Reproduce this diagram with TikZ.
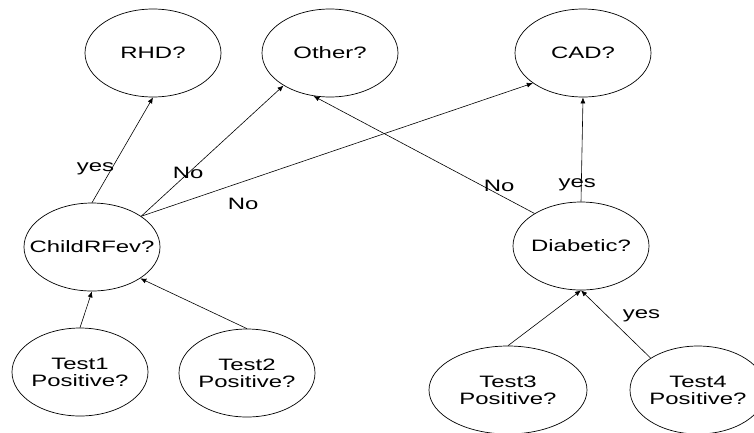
\documentclass[tikz,border=0pt]{standalone}
\usepackage{fontspec}
\setmainfont{Liberation Sans}[FakeStretch=1.45]
\usetikzlibrary{shapes.geometric, arrows.meta}

\begin{document}
\begin{tikzpicture}[x=1pt, y=-1pt,
    qnode/.style={draw, ellipse, line width=0.7pt, minimum width=136pt, minimum height=88pt, inner xsep=-24pt, inner ysep=0pt, align=center, font=\fontsize{16.5pt}{17pt}\selectfont},
    link/.style={-{Latex[length=6pt, width=5pt]}, line width=0.6pt},
    lbl/.style={font=\fontsize{16.5pt}{18pt}\selectfont, inner sep=1pt}]
    \useasboundingbox (0,0) rectangle (754,432);

    % Diagnoses
    \node[qnode] (rhd) at (153, 53) {RHD?};
    \node[qnode] (other) at (330, 53) {Other?};
    \node[qnode] (cad) at (583, 53) {CAD?};

    % Intermediate factors
    \node[qnode] (child) at (92, 247) {ChildRFev?};
    \node[qnode] (diab) at (581, 246) {Diabetic?};

    % Tests
    \node[qnode] (t1) at (80, 372) {Test1\\Positive?};
    \node[qnode] (t2) at (247, 373) {Test2\\Positive?};
    \node[qnode, minimum width=158pt] (t3) at (508, 390) {Test3\\Positive?};
    \node[qnode] (t4) at (698, 390) {Test4\\Positive?};

    % Links to diagnoses
    \draw[link] (child.north) -- node[lbl, pos=0.32, xshift=-16pt] {yes} (rhd.south);
    \draw[link] (child.32) -- node[lbl, pos=0.33] {No} (other.215);
    \draw[link] (child.32) -- node[lbl, pos=0.26, yshift=-22pt] {No} (cad.211);
    \draw[link] (diab.145) -- node[lbl, pos=0.16, yshift=9pt] {No} (other.249);
    \draw[link] (diab.north) -- node[lbl, pos=0.16, xshift=-4pt] {yes} (cad.south);

    % Links from tests
    \draw[link] (t1.north) -- (child.south);
    \draw[link] (t2.north) -- (child.-33);
    \draw[link] (t3.north) -- (diab.south);
    \draw[link] (t4.146) -- node[lbl, pos=0.62, xshift=34pt] {yes} (diab.south);
\end{tikzpicture}
\end{document}
